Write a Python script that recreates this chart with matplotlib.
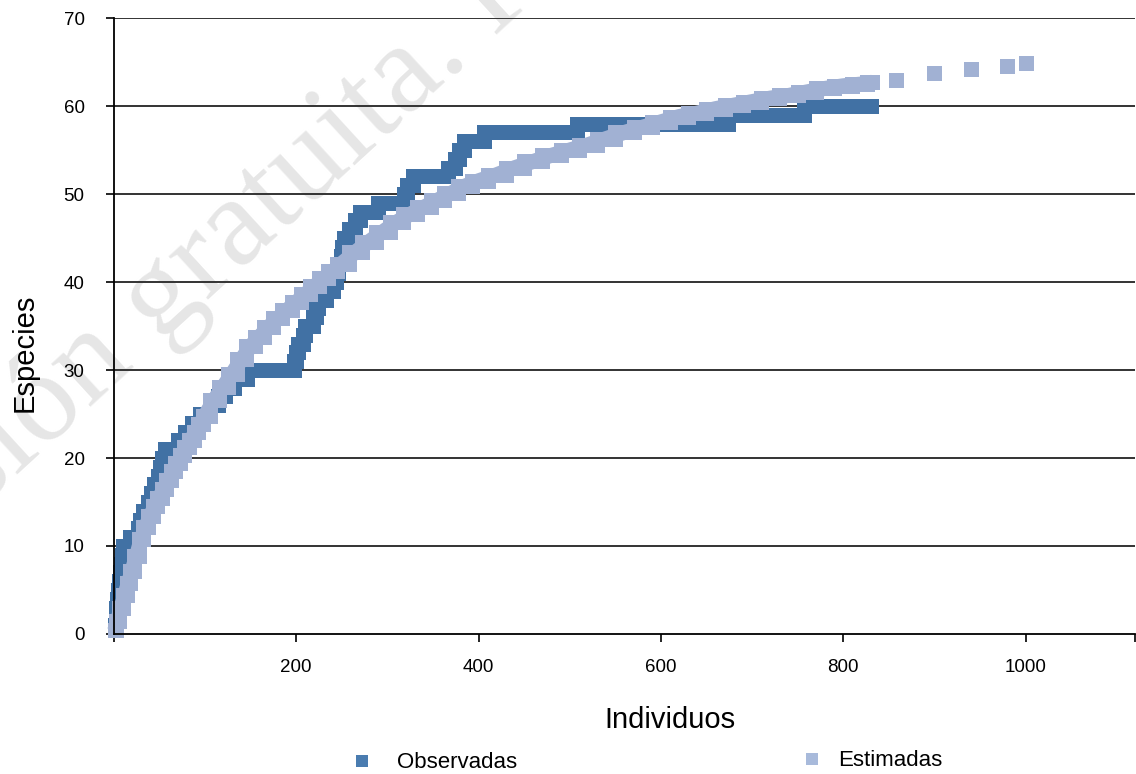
import matplotlib
matplotlib.use("Agg")
import matplotlib.pyplot as plt
from matplotlib.lines import Line2D

# ---------------- data ----------------
# Observed species accumulation (step changes: individuals -> species)
obs_x = [1, 2, 3, 5, 6, 7, 8, 9, 10, 18, 26, 29, 32, 38, 41, 44, 48, 51, 53, 56,
         70, 78, 86, 94, 106, 114, 122, 132, 146, 198, 200, 202, 207, 210, 219,
         222, 224, 233, 240, 244, 246, 249, 250, 252, 258, 264, 270, 290, 318,
         322, 328, 367, 374, 379, 384, 406, 508, 674, 757, 831]
obs_y = [1, 3, 4, 5, 6, 7, 8, 9, 10, 11, 12, 13, 14, 15, 16, 17, 18, 19, 20, 21,
         22, 23, 24, 25, 26, 27, 28, 29, 30, 31, 32, 33, 34, 35, 36,
         37, 38, 39, 40, 41, 42, 43, 44, 45, 46, 47, 48, 49, 50,
         51, 52, 53, 54, 55, 56, 57, 58, 59, 60, 60]

# Estimated (dense curve up to the sample size, then extrapolated points)
est_x = [1, 4, 8, 12, 16, 20, 25, 30, 35, 40, 45, 50, 55, 60, 65, 70, 75, 80,
         85, 90, 95, 100, 110, 120, 130, 140, 150, 160, 170, 180, 190, 200,
         210, 220, 230, 240, 250, 265, 280, 295, 310, 325, 340, 355, 370, 385,
         400, 420, 440, 460, 480, 500, 520, 540, 560, 580, 600, 620, 640, 660,
         680, 700, 720, 740, 760, 780, 800, 820, 832,
         858, 900, 940, 980, 1000]
est_y = [0.4, 1.5, 3.0, 4.4, 5.8, 7.2, 8.9, 10.8, 12.2, 13.4, 14.5, 15.5, 16.5,
         17.5, 18.5, 19.4, 20.3, 21.2, 22.1, 23.0, 23.9, 24.8, 26.6, 28.1, 29.6,
         31.2, 32.7, 33.8, 34.9, 35.9, 36.8, 37.7, 38.6, 39.5, 40.4, 41.2, 42.1,
         43.4, 44.6, 45.7, 46.8, 47.7, 48.5, 49.3, 50.1, 50.9, 51.5, 52.2, 53.0,
         53.7, 54.4, 55.0, 55.6, 56.3, 57.0, 57.6, 58.2, 58.8, 59.2, 59.7, 60.1,
         60.5, 60.9, 61.2, 61.6, 62.0, 62.3, 62.5, 62.7,
         63.0, 63.8, 64.2, 64.5, 64.9]
n_dense = 69  # number of estimated points belonging to the dense curve

x_ticks = [0, 200, 400, 600, 800, 1000, 1120]
x_ticklabels = ["", "200", "400", "600", "800", "1000", ""]
y_ticks = [0, 10, 20, 30, 40, 50, 60, 70]

series_names = ["Observadas", "Estimadas"]
obs_color = "#4171a4"
est_color = "#a1b1d3"
obs_legend_color = "#4a7cb0"
est_legend_color = "#a8badb"

# ---------------- figure ----------------
W, H = 1136, 774
plt.rcParams["font.family"] = ["Liberation Sans", "DejaVu Sans"]
fig = plt.figure(figsize=(W / 100, H / 100), dpi=100)
ax = fig.add_axes([113.8 / W, 1 - 634 / H, (1135 - 113.8) / W, (634 - 18) / H])
ax.patch.set_facecolor("none")

# watermark (light grey, behind everything)
ax.text(177 / W, 1 - 287 / H, "Versión gratuita. P", transform=fig.transFigure,
        rotation=42.5, rotation_mode="anchor", ha="center", va="center",
        fontsize=92, family=["Liberation Serif", "DejaVu Serif"],
        color="#e6e6e6", zorder=0.2, clip_on=False)

# horizontal grid lines
for yv in y_ticks[1:]:
    ax.axhline(yv, color="#333333", lw=1.4, zorder=1)

# observed: staircase of squares
mk = 10.8  # points (= 15 px square)
ax.plot(obs_x, obs_y, drawstyle="steps-post", color=obs_color, lw=mk,
        solid_joinstyle="miter", solid_capstyle="projecting", zorder=3,
        clip_on=False)

# estimated: dense part (staircase of squares + smooth core), then squares
ax.plot(est_x[:n_dense], est_y[:n_dense], drawstyle="steps-mid", color=est_color,
        lw=mk, solid_joinstyle="miter", solid_capstyle="projecting", zorder=4,
        clip_on=False)
ax.plot(est_x[:n_dense], est_y[:n_dense], color=est_color, lw=mk,
        solid_joinstyle="round", solid_capstyle="butt", zorder=4,
        clip_on=False)
ax.plot(est_x[n_dense:], est_y[n_dense:], ls="none", marker="s", ms=mk,
        mew=0, color=est_color, zorder=4, clip_on=False)

ax.set_xlim(0, 1120)
ax.set_ylim(0, 70)
ax.set_xticks(x_ticks)
ax.set_xticklabels(x_ticklabels)
ax.set_yticks(y_ticks)
ax.set_yticklabels([str(v) for v in y_ticks])

for s in ["top", "right"]:
    ax.spines[s].set_visible(False)
for s in ["left", "bottom"]:
    ax.spines[s].set_color("black")
    ax.spines[s].set_linewidth(1.3)
    ax.spines[s].set_zorder(5)

ax.tick_params(axis="y", direction="out", length=6, width=1.2, pad=15,
               labelsize=13.5, colors="black")
ax.tick_params(axis="x", direction="out", length=6, width=1.2, pad=12,
               labelsize=13.5, colors="black")

fig.text(25 / W, 1 - 353 / H, "Especies", rotation=90, ha="center",
         va="center", fontsize=21)
fig.text(670 / W, 1 - 720 / H, "Individuos", ha="center", va="center",
         fontsize=21)

# legend entries placed like the reference
fs = 16
px_per_fs = fs * 100 / 72
hl = 0.6
for name, col, cx, tx, cy in [(series_names[0], obs_legend_color, 362, 397, 763),
                              (series_names[1], est_legend_color, 812, 838, 761)]:
    anchor = cx - hl * px_per_fs / 2
    pad = (tx - anchor - hl * px_per_fs) / px_per_fs
    h = Line2D([], [], ls="none", marker="s", ms=8.6, mew=0, color=col)
    fig.legend(handles=[h], labels=[name], loc="center left",
               bbox_to_anchor=(anchor / W, 1 - cy / H), frameon=False,
               fontsize=fs, handlelength=hl, handletextpad=pad,
               borderpad=0, borderaxespad=0)

fig.savefig("out.png", dpi=100)
